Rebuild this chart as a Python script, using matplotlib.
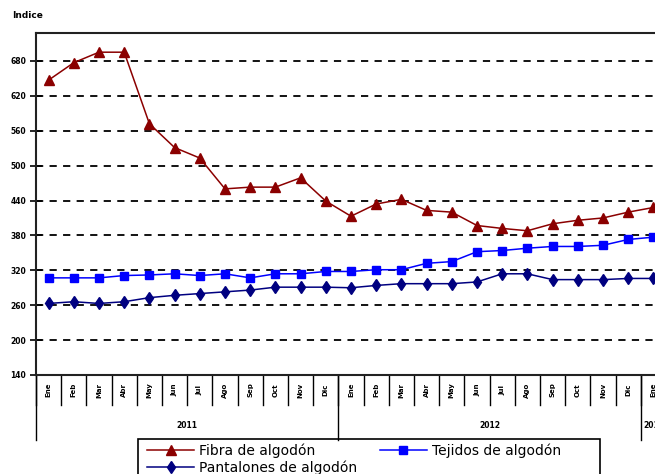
import matplotlib
matplotlib.use("Agg")
import matplotlib.pyplot as plt
import matplotlib.transforms as mtransforms
from matplotlib.lines import Line2D
from matplotlib.patches import Rectangle

months = ["Ene", "Feb", "Mar", "Abr", "May", "Jun", "Jul", "Ago", "Sep", "Oct", "Nov", "Dic"]
categories = months + months + ["Ene"]
years = ["2011", "2012", "2013"]
year_sizes = [12, 12, 1]

fibra = [647, 677, 695, 695, 572, 531, 513, 460, 463, 463, 479, 439,
         413, 434, 442, 423, 420, 397, 392, 388, 400, 406, 410, 420, 428]
tejidos = [307, 307, 307, 311, 312, 314, 311, 314, 307, 314, 314, 318,
           318, 321, 321, 332, 335, 352, 354, 358, 361, 361, 363, 373, 377]
pantalones = [263, 266, 263, 266, 273, 277, 280, 283, 286, 291, 291, 291,
              290, 294, 297, 297, 297, 300, 314, 314, 304, 304, 304, 306, 306]

yticks = [140, 200, 260, 320, 380, 440, 500, 560, 620, 680]

W, H = 655, 474
fig = plt.figure(figsize=(W / 100, H / 100), dpi=100)
n = len(categories)
cw = 25.2
left, top, bottom = 36, 33, 375
ax = fig.add_axes([left / W, 1 - bottom / H, n * cw / W, (bottom - top) / H])

x = list(range(n))
ax.plot(x, fibra, color="#8B0000", lw=1.1, marker="^", ms=7, label="Fibra de algodón", zorder=3)
ax.plot(x, tejidos, color="#0000FF", lw=1.1, marker="s", ms=5.5, label="Tejidos de algodón", zorder=3)
ax.plot(x, pantalones, color="#000080", lw=1.1, marker="d", ms=6.5, label="Pantalones de algodón", zorder=3)

ax.set_xlim(-0.5, n - 0.5)
ax.set_ylim(140, 728)
ax.set_yticks(yticks)
ax.set_yticklabels([str(v) for v in yticks], fontsize=5.5, fontweight="bold")
ax.set_xticks([])
ax.tick_params(axis="y", direction="inout", length=8, width=1.2, pad=3)
for v in yticks[1:]:
    ax.axhline(v, color="black", lw=1.3, ls=(0, (4, 3.5)), zorder=1)

for s in ["left", "top", "bottom"]:
    ax.spines[s].set_linewidth(1.5)
    ax.spines[s].set_color("#222222")
ax.spines["right"].set_visible(False)

trans = mtransforms.blended_transform_factory(ax.transData, ax.transAxes)
ah = bottom - top
for i in range(n + 1):
    ax.add_line(Line2D([i - 0.5, i - 0.5], [0, -30 / ah], transform=trans, clip_on=False,
                       color="black", lw=1))
for i, c in enumerate(categories):
    ax.text(i, -15 / ah, c, transform=trans, rotation=90, ha="center", va="center",
            fontsize=5, fontweight="bold", clip_on=False)
start = 0
for yname, sz in zip(years, year_sizes):
    ax.add_line(Line2D([start - 0.5, start - 0.5], [0, -65 / ah], transform=trans,
                       clip_on=False, color="black", lw=1))
    ax.text(start + sz / 2 - 0.5, -50 / ah, yname, transform=trans, ha="center", va="center",
            fontsize=5.5, fontweight="bold", clip_on=False)
    start += sz

fig.text(12 / W, 1 - 15 / H, "Indice", fontsize=6.5, fontweight="bold", ha="left", va="center")

# legend frame (extends past the bottom edge, as in the reference)
fig.patches.append(Rectangle((138 / W, -20 / H), 462 / W, (474 - 439 + 20) / H,
                             transform=fig.transFigure, fill=False, edgecolor="black",
                             lw=1.2))
h, l = ax.get_legend_handles_labels()
order = [0, 2, 1]
leg = fig.legend([h[i] for i in order], [l[i] for i in order], ncol=2,
                 loc="upper left", bbox_to_anchor=(147 / W, 1 - 443 / H),
                 borderaxespad=0, frameon=False, borderpad=0,
                 fontsize=10, handlelength=3.4, labelspacing=0.2,
                 handletextpad=0.36, columnspacing=1.6)

fig.savefig("out.png", dpi=100)
